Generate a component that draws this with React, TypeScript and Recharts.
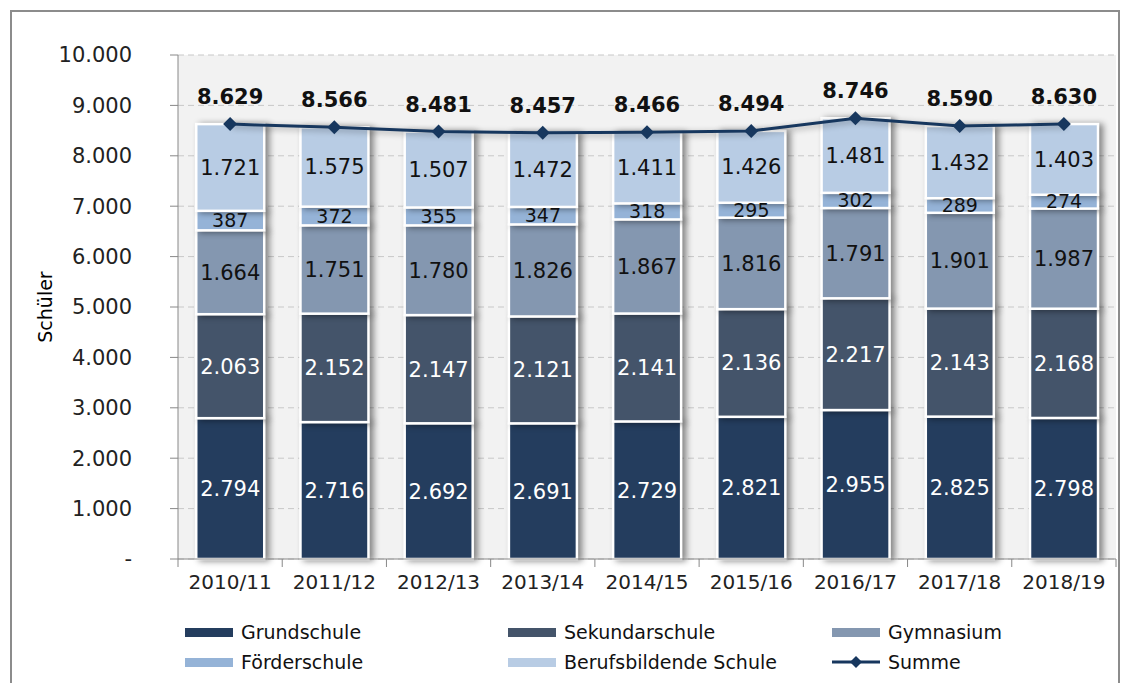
import React from 'react'
import { BarChart, Bar, Line, XAxis, YAxis, CartesianGrid, LabelList } from 'recharts'

const years = ['2010/11', '2011/12', '2012/13', '2013/14', '2014/15', '2015/16', '2016/17', '2017/18', '2018/19']
const grundschule = [2794, 2716, 2692, 2691, 2729, 2821, 2955, 2825, 2798]
const sekundarschule = [2063, 2152, 2147, 2121, 2141, 2136, 2217, 2143, 2168]
const gymnasium = [1664, 1751, 1780, 1826, 1867, 1816, 1791, 1901, 1987]
const foerderschule = [387, 372, 355, 347, 318, 295, 302, 289, 274]
const berufsbildende = [1721, 1575, 1507, 1472, 1411, 1426, 1481, 1432, 1403]
const summe = [8629, 8566, 8481, 8457, 8466, 8494, 8746, 8590, 8630]
const yTicks = [0, 1000, 2000, 3000, 4000, 5000, 6000, 7000, 8000, 9000, 10000]

const data = years.map((year, i) => ({
  year,
  grundschule: grundschule[i],
  sekundarschule: sekundarschule[i],
  gymnasium: gymnasium[i],
  foerderschule: foerderschule[i],
  berufsbildende: berufsbildende[i],
  summe: summe[i],
}))

const FONT = '"DejaVu Sans", sans-serif'
const W = 1131
const H = 683
const X_H = 30
const M = { top: 55, right: 15, bottom: 124 - X_H, left: 0 }
const Y_W = 178
const BAND = (W - M.left - M.right - Y_W) / years.length
const AXIS_Y = 559

const fmt = (v: any) => {
  const n = Number(v)
  if (n === 0) return '-'
  return String(n).replace(/\B(?=(\d{3})+(?!\d))/g, '.')
}

const C = {
  grund: '#243d5e',
  sek: '#44546a',
  gym: '#8497b0',
  foerder: '#95b3d7',
  beruf: '#b8cce4',
  summe: '#17375e',
}

const shadow = 'drop-shadow(4px 1px 3px rgba(0,0,0,0.45))'

const SegShape = (p: any) => (
  <rect x={p.x} y={p.y} width={p.width} height={p.height} fill={p.fill} stroke="#fff" strokeWidth={2.5} style={{ filter: shadow }} />
)

const XTick = (props: any) => {
  const { x, payload, index } = props
  const half = BAND / 2
  return (
    <g>
      <line x1={x - half} y1={AXIS_Y} x2={x - half} y2={AXIS_Y + 8} stroke="#888" />
      {index === years.length - 1 && <line x1={x + half} y1={AXIS_Y} x2={x + half} y2={AXIS_Y + 8} stroke="#888" />}
      <text x={x} y={AXIS_Y + 30} textAnchor="middle" fontSize={20} fill="#222" fontFamily={FONT}>{payload.value}</text>
    </g>
  )
}

const Diamond = (p: any) => {
  const { cx, cy } = p
  const s = 7
  return <path d={`M${cx},${cy - s}L${cx + s},${cy}L${cx},${cy + s}L${cx - s},${cy}Z`} fill={C.summe} />
}

const legendItems = [
  { name: 'Grundschule', color: C.grund, x: 185, y: 632 },
  { name: 'Sekundarschule', color: C.sek, x: 508, y: 632 },
  { name: 'Gymnasium', color: C.gym, x: 832, y: 632 },
  { name: 'Förderschule', color: C.foerder, x: 185, y: 662 },
  { name: 'Berufsbildende Schule', color: C.beruf, x: 508, y: 662 },
  { name: 'Summe', color: C.summe, x: 832, y: 662, line: true },
]

export default function App() {
  return (
    <div style={{ position: 'absolute', left: 0, top: 0, width: W, height: H, background: '#fff', overflow: 'hidden', fontFamily: FONT }}>
      <div style={{ position: 'absolute', left: 10, top: 10, width: 1106, height: 700, border: '2px solid #8c8c8c' }} />
      <div style={{ position: 'absolute', left: 0, top: 0 }}>
        <BarChart width={W} height={H} data={data} margin={M} barCategoryGap="17.5%">
          <CartesianGrid vertical={false} stroke="#c8c8c8" strokeDasharray="6 4" fill="#f2f2f2" />
          <XAxis dataKey="year" height={X_H} tick={<XTick />} tickLine={false} axisLine={{ stroke: '#888' }} interval={0} />
          <YAxis
            width={Y_W}
            domain={[0, 10000]}
            ticks={yTicks}
            tickFormatter={fmt}
            tickSize={8}
            tickMargin={38}
            tick={{ fontSize: 21, fill: '#222', fontFamily: FONT }}
            tickLine={{ stroke: '#888' }}
            axisLine={{ stroke: '#888' }}
            label={{ value: 'Schüler', angle: -90, position: 'center', dx: -44, fontSize: 19, fill: '#000', fontFamily: FONT }}
          />
          <Bar dataKey="grundschule" stackId="a" fill={C.grund} shape={SegShape} isAnimationActive={false}>
            <LabelList dataKey="grundschule" position="center" formatter={fmt} fill="#fff" fontSize={21} fontFamily={FONT} />
          </Bar>
          <Bar dataKey="sekundarschule" stackId="a" fill={C.sek} shape={SegShape} isAnimationActive={false}>
            <LabelList dataKey="sekundarschule" position="center" formatter={fmt} fill="#fff" fontSize={21} fontFamily={FONT} />
          </Bar>
          <Bar dataKey="gymnasium" stackId="a" fill={C.gym} shape={SegShape} isAnimationActive={false}>
            <LabelList dataKey="gymnasium" position="center" formatter={fmt} fill="#111" fontSize={21} fontFamily={FONT} />
          </Bar>
          <Bar dataKey="foerderschule" stackId="a" fill={C.foerder} shape={SegShape} isAnimationActive={false}>
            <LabelList dataKey="foerderschule" position="center" formatter={fmt} fill="#111" fontSize={19} fontFamily={FONT} />
          </Bar>
          <Bar dataKey="berufsbildende" stackId="a" fill={C.beruf} shape={SegShape} isAnimationActive={false}>
            <LabelList dataKey="berufsbildende" position="center" formatter={fmt} fill="#111" fontSize={21} fontFamily={FONT} />
          </Bar>
          <Line
            type="linear"
            dataKey="summe"
            stroke={C.summe}
            strokeWidth={3}
            dot={<Diamond />}
            activeDot={false}
            isAnimationActive={false}
            style={{ filter: 'drop-shadow(2px 2px 3px rgba(0,0,0,0.35))' }}
          >
            <LabelList dataKey="summe" position="top" offset={20} formatter={fmt} fill="#111" fontSize={21} fontWeight="bold" fontFamily={FONT} />
          </Line>
        </BarChart>
      </div>
      {legendItems.map((it) => (
        <div key={it.name} style={{ position: 'absolute', left: it.x, top: it.y - 12, height: 24, display: 'flex', alignItems: 'center', fontSize: 19, color: '#111', whiteSpace: 'nowrap' }}>
          {it.line ? (
            <svg width={48} height={14} style={{ marginRight: 8 }}>
              <line x1={0} y1={7} x2={48} y2={7} stroke={it.color} strokeWidth={3} />
              <path d="M24,1L30,7L24,13L18,7Z" fill={it.color} />
            </svg>
          ) : (
            <div style={{ width: 48, height: 9, background: it.color, marginRight: 8 }} />
          )}
          {it.name}
        </div>
      ))}
    </div>
  )
}
